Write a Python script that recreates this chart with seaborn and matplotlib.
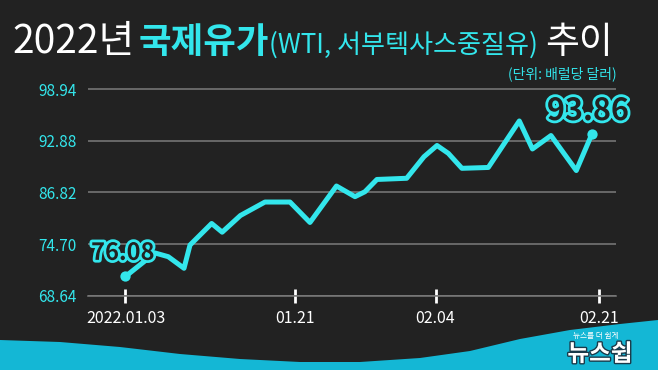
import seaborn as sns
import matplotlib.pyplot as plt
import matplotlib.patheffects as pe
import numpy as np
import pandas as pd

# WTI price (x = days after 2022.01.03)
days = [0, 3.05, 4.43, 6.06, 6.68, 8.92, 10.01, 11.90, 14.44, 17.03, 19.10, 21.84, 23.76,
        24.79, 26.03, 29.11, 30.90, 32.25, 33.42, 34.83, 37.56, 40.77, 42.13, 44.05, 46.67, 48.29]
prices = [76.96, 79.72, 79.28, 77.92, 80.65, 83.18, 82.16, 84.12, 85.70, 85.70, 83.30, 87.58, 86.33,
          86.91, 88.35, 88.49, 91.02, 92.34, 91.42, 89.66, 89.76, 95.22, 91.93, 93.51, 89.40, 93.69]
end_labels = ['76.08', '93.86']

tick_days = [0, 17.6, 32.1, 49]
tick_labels = ['2022.01.03', '01.21', '02.04', '02.21']
ytick_values = [74.70, 80.76, 86.82, 92.88, 98.94]
ytick_labels = ['68.64', '74.70', '86.82', '92.88', '98.94']

# bottom wave decoration (pixels)
wave_x = [0, 60, 120, 180, 240, 300, 360, 420, 470, 520, 570, 620, 658]
wave_y = [340, 342, 347, 354, 359, 362, 362, 358, 351, 339, 330, 324, 320]

BG = '#222222'
CYAN = '#33e6ec'
W, H = 658, 370

sns.set_theme(style='dark')
plt.rcParams['font.family'] = ['Noto Sans CJK KR', 'DejaVu Sans']

fig = plt.figure(figsize=(6.58, 3.70), dpi=100, facecolor=BG)

bg = fig.add_axes([0, 0, 1, 1], zorder=0)
bg.set_xlim(0, W)
bg.set_ylim(H, 0)
bg.axis('off')
bg.fill_between(wave_x, wave_y, H, color='#14b7d5', lw=0)

ax = fig.add_axes([88 / W, 1 - 295.7 / H, 528 / W, (295.7 - 60) / H], zorder=1)
ax.set_facecolor('none')

df = pd.DataFrame({'day': days, 'price': prices})
sns.lineplot(data=df, x='day', y='price', ax=ax, color=CYAN, linewidth=3.6)
ends = df.iloc[[0, -1]]
ax.scatter(ends['day'], ends['price'], s=55, color=CYAN, zorder=4, lw=0)

ax.set_xlim(-3.88, 50.78)
ax.set_ylim(74.70, 102.38)
ax.set_xticks(tick_days)
ax.set_xticklabels(tick_labels)
ax.set_yticks(ytick_values)
ax.set_yticklabels(ytick_labels)
ax.set_xlabel('')
ax.set_ylabel('')
ax.grid(False)
ax.grid(axis='y', color='#7c7c7c', lw=1.1)
for s in ['top', 'right', 'left']:
    ax.spines[s].set_visible(False)
ax.spines['bottom'].set_color('#7c7c7c')
ax.spines['bottom'].set_linewidth(1.1)
ax.tick_params(axis='y', length=0, pad=8, labelcolor=CYAN, labelsize=11)
ax.tick_params(axis='x', direction='inout', length=10, width=2, color='white',
               pad=5, labelcolor='white', labelsize=11.5, bottom=True)

# end point labels
for i, off, fs in [(0, (-2, 17), 17), (-1, (-3, 16.5), 22)]:
    ax.annotate(end_labels[i], (days[i], prices[i]), xytext=off, textcoords='offset points',
                ha='center', va='center', fontsize=fs, fontweight='bold', color=BG,
                path_effects=[pe.withStroke(linewidth=4, foreground=CYAN)],
                annotation_clip=False, zorder=5)

# title
base = 1 - 53 / H
fig.text(12.6 / W, base, '2022년', fontsize=28, color='white', va='baseline')
fig.text(138.5 / W, base, '국제유가', fontsize=25.5, fontweight='bold', color=CYAN, va='baseline')
fig.text(268.6 / W, base, '(WTI, 서부텍사스중질유)', fontsize=18.8, color=CYAN, va='baseline')
fig.text(545.5 / W, base, '추이', fontsize=26.5, color='white', va='baseline')
fig.text(617 / W, 1 - 73.5 / H, '(단위: 배럴당 달러)', fontsize=10, color=CYAN,
         ha='right', va='center')

# logo
fig.text(596 / W, 1 - 336 / H, '뉴스를 더 쉽게', fontsize=5.5, color='white',
         ha='center', va='center')
fig.text(600 / W, 1 - 354 / H, '뉴스쉽', fontsize=17, fontweight='bold', color='white',
         ha='center', va='center',
         path_effects=[pe.withStroke(linewidth=2, foreground='#1a3a4a')])

fig.savefig('out.png', dpi=100, facecolor=BG)
